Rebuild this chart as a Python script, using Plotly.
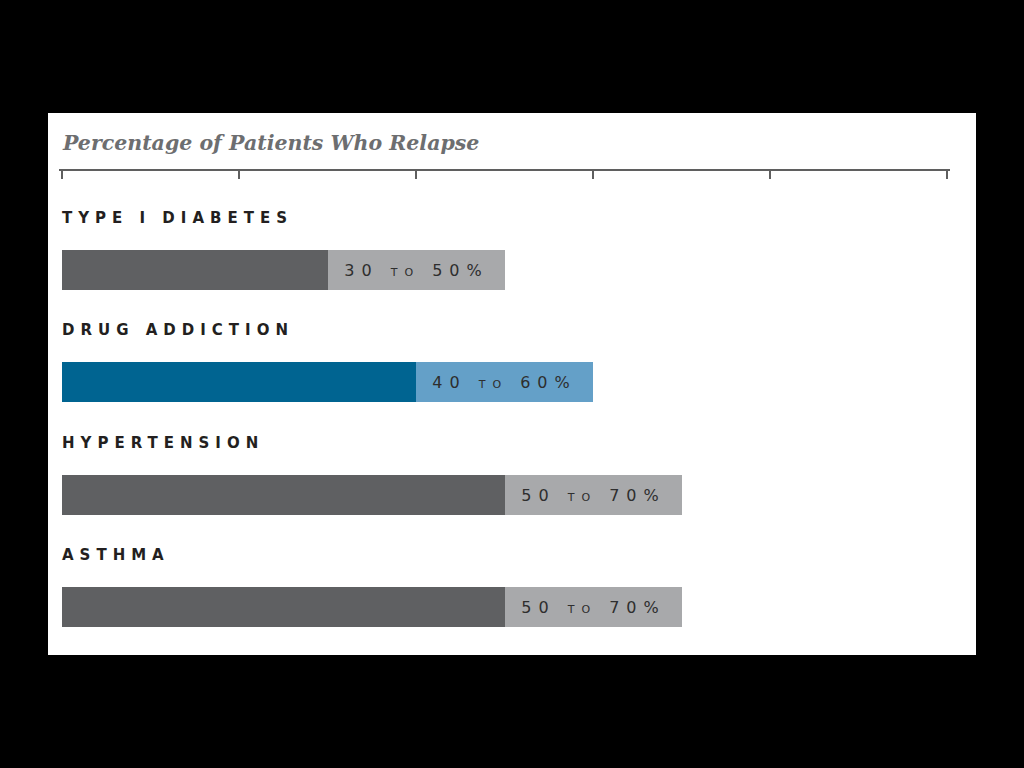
import plotly.graph_objects as go

categories = ["TYPE I DIABETES", "DRUG ADDICTION", "HYPERTENSION", "ASTHMA"]
low = [30, 40, 50, 50]
high = [50, 60, 70, 70]
range_labels = ["30 to 50%", "40 to 60%", "50 to 70%", "50 to 70%"]
dark_colors = ["#5f6062", "#006491", "#5f6062", "#5f6062"]
light_colors = ["#a8a9ab", "#64a0c8", "#a8a9ab", "#a8a9ab"]
tick_values = [0, 20, 40, 60, 80, 100]
title_text = "Percentage of Patients Who Relapse"

fig = go.Figure()

fig.add_trace(go.Bar(
    y=categories, x=low, base=[0] * len(low), orientation="h",
    marker=dict(color=dark_colors, line=dict(width=0)),
    width=0.356, hoverinfo="skip", showlegend=False,
))

fig.add_trace(go.Bar(
    y=categories, x=[h - l for h, l in zip(high, low)], base=low, orientation="h",
    marker=dict(color=light_colors, line=dict(width=0)),
    width=0.356, hoverinfo="skip", showlegend=False,
    text=['<span style="letter-spacing:7px">' + t + '</span>' for t in range_labels],
    textposition="inside", insidetextanchor="middle", constraintext="none",
    textfont=dict(family="DejaVu Sans", size=16, color="#2e2e2e", variant="small-caps"),
    cliponaxis=False,
))

for cat in categories:
    fig.add_annotation(
        x=0, y=cat, xref="x", yref="y", xanchor="left", yanchor="middle",
        xshift=-2, yshift=52, showarrow=False,
        text='<span style="letter-spacing:6px">' + cat + '</span>',
        font=dict(family="DejaVu Sans", size=15, color="#231f20", weight="bold"),
    )

fig.add_annotation(
    x=0, y=1, xref="x", yref="paper", xanchor="left", yanchor="middle",
    xshift=-2, yshift=28, showarrow=False,
    text=title_text,
    font=dict(family="DejaVu Serif", size=20.5, color="#6d6e70", style="italic", weight="bold"),
)

plot_w = 1024 - 59 - 74
fig.add_shape(
    type="rect", xref="paper", yref="paper",
    x0=(48 - 59) / plot_w, x1=(976 - 59) / plot_w, y0=0, y1=(655 - 113) / 484,
    fillcolor="white", line=dict(width=0), layer="below",
)

fig.update_xaxes(
    range=[-0.34, 100.34], side="top", showline=True, linecolor="#5f5f5f", linewidth=2,
    ticks="inside", ticklen=8, tickwidth=2, tickcolor="#5f5f5f",
    tickvals=tick_values, showticklabels=False, showgrid=False, zeroline=False,
    fixedrange=True,
)
fig.update_yaxes(
    type="category", range=[3.428, -0.8816], visible=False, fixedrange=True,
)

fig.update_layout(
    width=1024, height=768, barmode="overlay",
    paper_bgcolor="black", plot_bgcolor="white",
    margin=dict(l=59, r=74, t=171, b=113),
    bargap=0,
)

fig.write_html(
    "out.html",
    config={"displayModeBar": False},
    post_script="document.body.style.margin='0';document.body.style.background='black';",
)
